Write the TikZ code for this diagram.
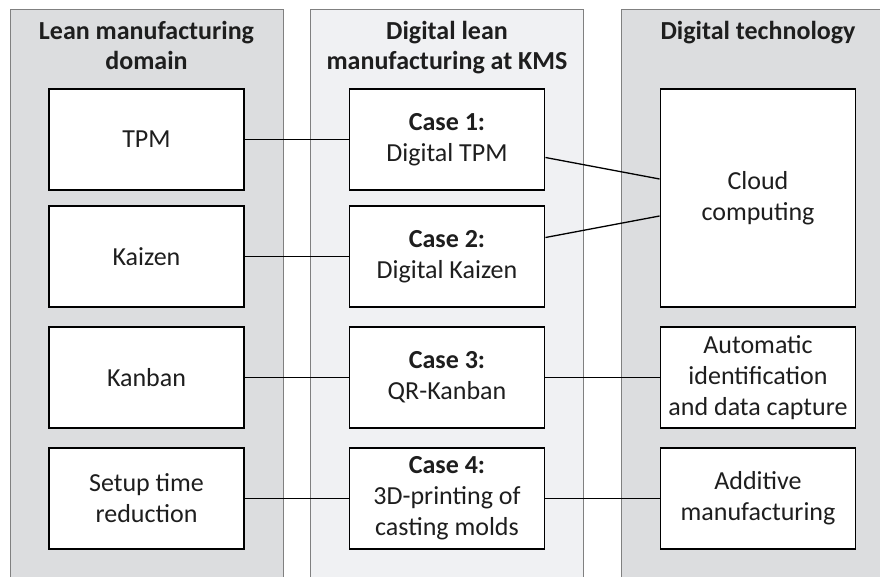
\documentclass[tikz,border=0pt]{standalone}
\usepackage{fontspec}
\setmainfont{Carlito}
\usepackage{tikz}
\usetikzlibrary{positioning}

\definecolor{panelgray}{HTML}{DCDDDF}
\definecolor{panellight}{HTML}{F0F1F3}
\definecolor{inkgray}{HTML}{1E1E1E}

\begin{document}
\begin{tikzpicture}[
        x=1pt, y=-1pt,
        panel/.style={rectangle, draw=black!50, line width=0.9pt, minimum width=273pt, minimum height=600pt, anchor=north},
        title/.style={align=center, text=inkgray, font=\fontsize{26}{30}\selectfont\bfseries, anchor=north},
        box/.style={rectangle, draw=black, fill=white, line width=1.9pt, minimum width=195pt, minimum height=101pt, align=center, text=inkgray, font=\fontsize{26}{31}\selectfont},
        link/.style={draw=black, line width=1.3pt}
      ]
      \clip (0,0) rectangle (880,577);
      \fill[white] (0,0) rectangle (880,577);

      % columns
      \node (lean) [panel, fill=panelgray] at (146.5,9) {};
      \node (dlm) [panel, fill=panellight] at (447,9) {};
      \node (tech) [panel, fill=panelgray] at (758,9) {};
      \node (leantitle) [title] at (146.5,18) {Lean manufacturing\\domain};
      \node (dlmtitle) [title] at (447,18) {Digital lean\\manufacturing at KMS};
      \node (techtitle) [title] at (758,18) {Digital technology};

      % lean domain
      \node (tpm) [box] at (146.5,139.5) {TPM};
      \node (kaizen) [box] at (146.5,256.5) {Kaizen};
      \node (kanban) [box] at (146.5,377.5) {Kanban};
      \node (setup) [box] at (146.5,498.5) {Setup time\\reduction};

      % cases
      \node (case1) [box] at (447,139.5) {\textbf{Case 1:}\\Digital TPM};
      \node (case2) [box] at (447,256.5) {\textbf{Case 2:}\\Digital Kaizen};
      \node (case3) [box] at (447,377.5) {\textbf{Case 3:}\\QR-Kanban};
      \node (case4) [box] at (447,498.5) {\textbf{Case 4:}\\3D-printing of\\casting molds};

      % technologies
      \node (cloud) [box, minimum height=218pt] at (758,198) {Cloud\\computing};
      \node (aidc) [box] at (758,377.5) {Automatic\\identification\\and data capture};
      \node (additive) [box] at (758,498.5) {Additive\\manufacturing};

      \draw[link] (tpm) -- (case1);
      \draw[link] (kaizen) -- (case2);
      \draw[link] (kanban) -- (case3);
      \draw[link] (setup) -- (case4);
      \draw[link] ([yshift=-18pt]case1.east) -- ([yshift=19pt]cloud.west);
      \draw[link] ([yshift=19pt]case2.east) -- ([yshift=-18pt]cloud.west);
      \draw[link] (case3) -- (aidc);
      \draw[link] (case4) -- (additive);
    \end{tikzpicture}
\end{document}
